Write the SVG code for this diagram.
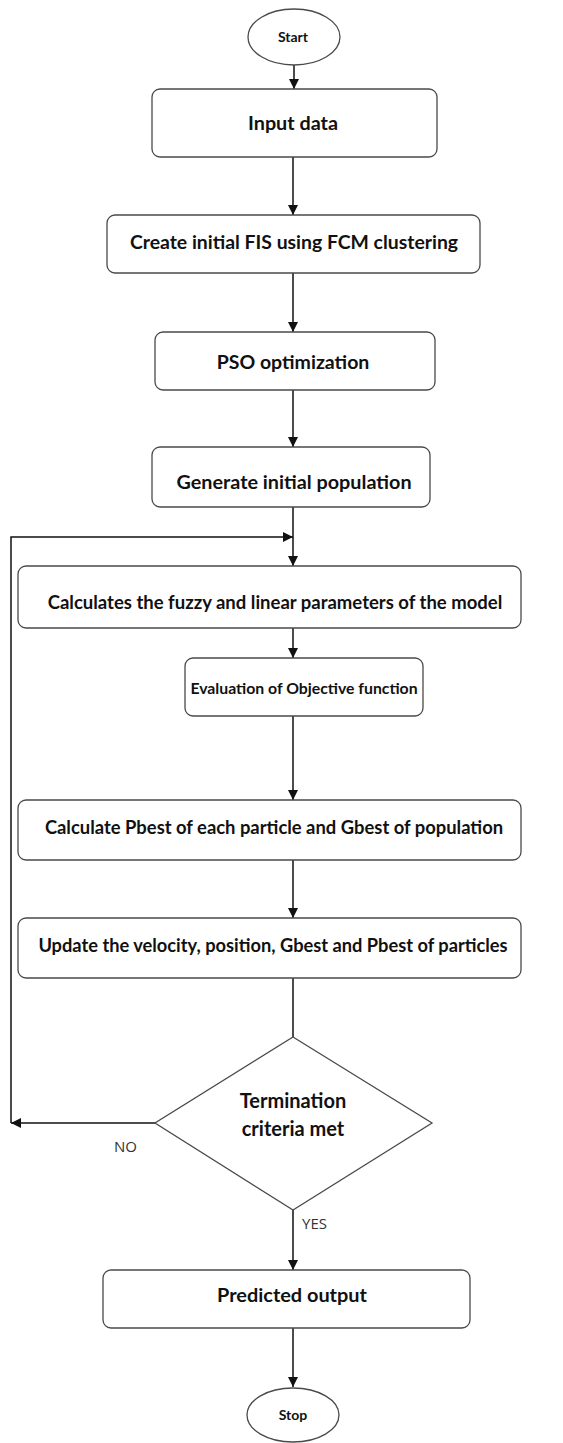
<svg xmlns="http://www.w3.org/2000/svg" width="563" height="1443" viewBox="0 0 563 1443">
  <style>
    .box { fill: #ffffff; stroke: #4a4a4a; stroke-width: 1.3; }
    .lbl { font-family: Lato, "Open Sans", "Liberation Sans", sans-serif; font-weight: bold; fill: #111; text-anchor: middle; }
    .yn { font-family: "Open Sans", "Liberation Sans", sans-serif; font-size: 15px; fill: #333; text-anchor: start; }
    .wire { fill: none; stroke: #111; stroke-width: 1.5; }
  </style>
  <defs>
    <marker id="arrow" viewBox="0 0 10 10" refX="10" refY="5" markerWidth="10" markerHeight="10" markerUnits="userSpaceOnUse" orient="auto">
      <path d="M0,0 L10,5 L0,10 z" fill="#111"/>
    </marker>
  </defs>
  <rect width="563" height="1443" fill="#ffffff"/>

  <g id="connectors">
    <line class="wire" x1="294" y1="65" x2="294" y2="89" marker-end="url(#arrow)"/>
    <line class="wire" x1="293" y1="157" x2="293" y2="215" marker-end="url(#arrow)"/>
    <line class="wire" x1="293" y1="273" x2="293" y2="332" marker-end="url(#arrow)"/>
    <line class="wire" x1="293" y1="390" x2="293" y2="447" marker-end="url(#arrow)"/>
    <line class="wire" x1="293" y1="507" x2="293" y2="566" marker-end="url(#arrow)"/>
    <line class="wire" x1="293" y1="628" x2="293" y2="658" marker-end="url(#arrow)"/>
    <line class="wire" x1="293" y1="716" x2="293" y2="800" marker-end="url(#arrow)"/>
    <line class="wire" x1="293" y1="860" x2="293" y2="918" marker-end="url(#arrow)"/>
    <line class="wire" x1="293" y1="978" x2="293" y2="1037"/>
    <line class="wire" x1="293" y1="1210" x2="293" y2="1270" marker-end="url(#arrow)"/>
    <line class="wire" x1="293" y1="1328" x2="293" y2="1387" marker-end="url(#arrow)"/>
    <!-- NO branch loops back above the parameter step -->
    <line class="wire" x1="155" y1="1123" x2="11" y2="1123" marker-end="url(#arrow)"/>
    <polyline class="wire" points="11,1123 11,537 293,537" marker-end="url(#arrow)"/>
    <text class="yn" x="114" y="1152">NO</text>
    <text class="yn" x="302" y="1229">YES</text>
  </g>

  <g id="start">
    <ellipse class="box" cx="294" cy="37" rx="46" ry="28"/>
    <text class="lbl" font-size="14" x="293" y="42">Start</text>
  </g>
  <g id="input-data">
    <rect class="box" x="152" y="89" width="285" height="68" rx="8"/>
    <text class="lbl" font-size="19.8" x="293" y="130">Input data</text>
  </g>
  <g id="create-fis">
    <rect class="box" x="107" y="215" width="373" height="58" rx="8"/>
    <text class="lbl" font-size="19.4" x="294" y="249">Create initial FIS using FCM clustering</text>
  </g>
  <g id="pso">
    <rect class="box" x="155" y="332" width="280" height="58" rx="8"/>
    <text class="lbl" font-size="19.5" x="293" y="369">PSO optimization</text>
  </g>
  <g id="init-population">
    <rect class="box" x="152" y="447" width="278" height="60" rx="8"/>
    <text class="lbl" font-size="19.8" x="294" y="489">Generate initial population</text>
  </g>
  <g id="calc-params">
    <rect class="box" x="18" y="566" width="503" height="62" rx="8"/>
    <text class="lbl" font-size="18.5" x="275" y="609">Calculates the fuzzy and linear parameters of the model</text>
  </g>
  <g id="evaluation">
    <rect class="box" x="185" y="658" width="238" height="58" rx="8"/>
    <text class="lbl" font-size="15.8" x="304" y="694">Evaluation of Objective function</text>
  </g>
  <g id="pbest-gbest">
    <rect class="box" x="18" y="800" width="503" height="60" rx="8"/>
    <text class="lbl" font-size="18.4" x="274" y="834">Calculate Pbest of each particle and Gbest of population</text>
  </g>
  <g id="update">
    <rect class="box" x="18" y="918" width="503" height="60" rx="8"/>
    <text class="lbl" font-size="18.25" x="273" y="952">Update the velocity, position, Gbest and Pbest of particles</text>
  </g>
  <g id="termination">
    <polygon class="box" points="293,1037 432,1123 293,1210 155,1123"/>
    <text class="lbl" font-size="20" x="293" y="1108">Termination</text>
    <text class="lbl" font-size="20" x="293" y="1136">criteria met</text>
  </g>
  <g id="predicted-output">
    <rect class="box" x="103" y="1270" width="367" height="58" rx="8"/>
    <text class="lbl" font-size="19.9" x="292" y="1302">Predicted output</text>
  </g>
  <g id="stop">
    <ellipse class="box" cx="293" cy="1415" rx="46" ry="27"/>
    <text class="lbl" font-size="14" x="293" y="1420">Stop</text>
  </g>
</svg>
